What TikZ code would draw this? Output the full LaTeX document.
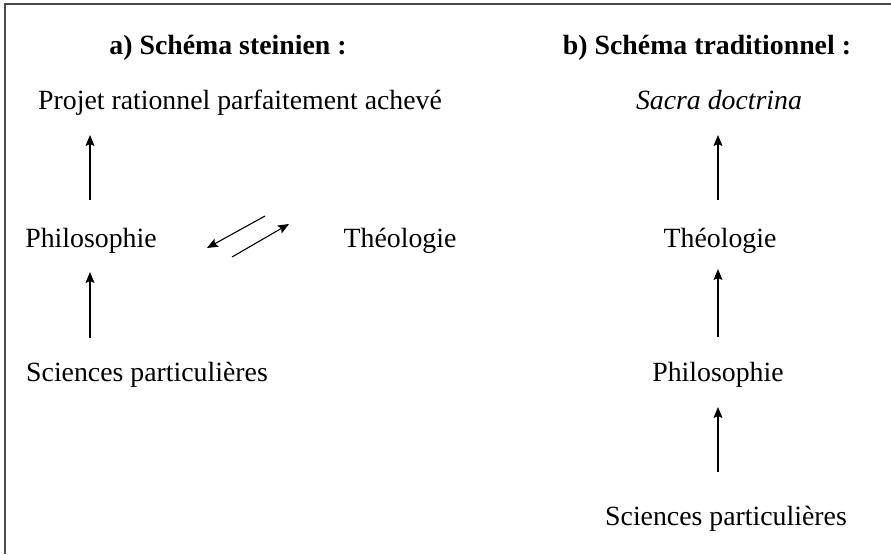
\documentclass[tikz,border=0pt]{standalone}
\usepackage{fontspec}
\setmainfont{Liberation Serif}
\usetikzlibrary{arrows.meta}
\begin{document}
\begin{tikzpicture}[x=1pt,y=-1pt,
  lbl/.style={anchor=base,inner sep=0pt,font=\fontsize{27.8}{33}\selectfont},
  ttl/.style={anchor=base,inner sep=0pt,font=\fontsize{27.8}{33}\selectfont\bfseries},
  arr/.style={line width=1.1pt,-{Stealth[length=11pt,width=9pt,inset=2pt]}},
  frame/.style={line width=1.8pt,draw=black!70}]
\useasboundingbox (0,0) rectangle (891,554);
\draw[frame] (5,554) -- (5,4) -- (891,4);
% titles
\node[ttl] (ta) at (228,54) {a) Schéma steinien :};
\node[ttl] (tb) at (707,54) {b) Schéma traditionnel :};
% left scheme
\node[lbl] (proj) at (240,109) {Projet rationnel parfaitement achevé};
\node[lbl] (philA) at (91,247) {Philosophie};
\node[lbl] (theoA) at (400,247) {Théologie};
\node[lbl] (sciA) at (147,381) {Sciences particulières};
\coordinate (a1s) at (90,200); \coordinate (a1e) at (90,135);
\coordinate (a2s) at (90,338); \coordinate (a2e) at (90,272);
\coordinate (d1s) at (265,216); \coordinate (d1e) at (207,248);
\coordinate (d2s) at (232,257); \coordinate (d2e) at (289,224);
\draw[arr] (a1s) -- (a1e);
\draw[arr] (a2s) -- (a2e);
\draw[arr] (d1s) -- (d1e);
\draw[arr] (d2s) -- (d2e);
% right scheme
\node[lbl,font=\fontsize{27.8}{33}\selectfont\itshape] (sacra) at (719,109) {Sacra doctrina};
\node[lbl] (theoB) at (720,247) {Théologie};
\node[lbl] (philB) at (718,381) {Philosophie};
\node[lbl] (sciB) at (726,525) {Sciences particulières};
\coordinate (b1s) at (718,200); \coordinate (b1e) at (718,135);
\coordinate (b2s) at (718,337); \coordinate (b2e) at (718,269);
\coordinate (b3s) at (718,472); \coordinate (b3e) at (718,407);
\draw[arr] (b1s) -- (b1e);
\draw[arr] (b2s) -- (b2e);
\draw[arr] (b3s) -- (b3e);
\end{tikzpicture}
\end{document}
